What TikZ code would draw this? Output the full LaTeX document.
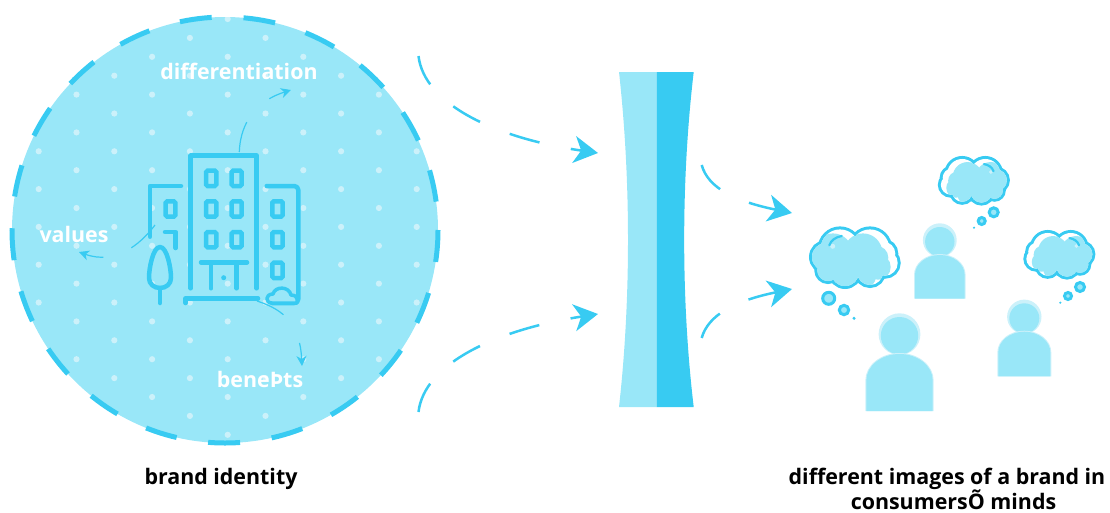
\documentclass[tikz,border=0pt]{standalone}
\usepackage{fontspec}
\setmainfont{Open Sans}
\usetikzlibrary{arrows.meta}
\definecolor{strong}{HTML}{38CBF2}
\definecolor{soft}{HTML}{99E7F8}
\definecolor{pale}{HTML}{CCF1FA}

\newcommand{\cloudlobes}{(-14,-9.3) circle (19.3) (16,-9.3) circle (19.3) (-28,-1) circle (14) (29.3,-4.3) circle (12) (31,5) circle (12.7) (-9,14) circle (14) (16,14) circle (13) (-26,12.3) circle (10.7) (2.7,2.3) circle (17)}

\tikzset{
    linework/.style={strong, line width=4.5pt, line cap=round, line join=round},
    glasspane/.style={strong, line width=4.5pt, rounded corners=1.5pt},
    flowline/.style={strong, line width=2.5pt, dash pattern=on 31pt off 32pt, -{Stealth[length=24pt, width=27pt, inset=7pt]}},
    noteline/.style={strong, line width=1.2pt, -{Stealth[length=10pt, width=10pt, inset=3pt]}},
    whitelabel/.style={white, inner sep=0pt, font=\fontsize{21.4}{25}\selectfont\bfseries},
    blacklabel/.style={black, inner sep=0pt, align=center, font=\fontsize{21.4}{25}\selectfont\bfseries},
    bubble/.style={strong, fill=soft, line width=3pt},
    thoughtcloud/.pic={
        \draw[strong, line width=6pt] \cloudlobes;
        \fill[white] \cloudlobes;
        \begin{scope}
            \clip \cloudlobes;
            \fill[soft, shift={(-7,4)}] \cloudlobes;
            \fill[soft] (-20,12) circle (24);
        \end{scope}
        \fill[pale] (-21.3,-11.7) circle (2.5);
        \draw[strong, line width=2.2pt, line cap=round] (-24.7,-12.7) .. controls (-23,-18) and (-18,-21) .. (-12.3,-22);
    }
}

\begin{document}
\begin{tikzpicture}[x=1pt, y=-1pt]
\useasboundingbox (0,0) rectangle (1110,512);

% Left: brand identity disc
\fill[soft] (225,230) circle (213);
\begin{scope}
    \clip (225,230) circle (213);
    \foreach \i in {-5,...,5} {
        \foreach \j in {0,...,11} {
            \fill[pale] ({227.7+37.8*\i},{19+37.8*\j+18.9*mod(\i+10,2)}) circle (3.1);
        }
    }
\end{scope}
\draw[strong, line width=5pt, dash pattern=on 32pt off 31.9pt] (225,230) circle (213);

% Building
\draw[linework] (190.7,288.3) -- (190.7,155.7) -- (256.7,155.7) -- (256.7,288.3);
\foreach \y in {170.7,201.3,232} {
    \draw[glasspane] (206,\y) rectangle (216.3,\y+15.3);
    \draw[glasspane] (231.7,\y) rectangle (241.7,\y+15.3);
}
\draw[linework] (150,236.7) -- (150,186) -- (181,186);
\draw[glasspane] (165.7,201.3) rectangle (175.3,216.7);
\draw[linework] (165,232) -- (175.7,232) -- (175.7,248);
\draw[linework, rounded corners=4pt] (266.7,186) -- (298.3,186) -- (298.3,303) -- (272,303);
\foreach \y in {201.3,232,262.7} {
    \draw[glasspane] (272.3,\y) rectangle (282.7,\y+15.3);
}
\draw[linework] (201,262.3) -- (247,262.3);
\draw[linework] (211,262.3) -- (211,288.3);
\draw[linework] (236.7,262.3) -- (236.7,288.3);
\fill[strong] (223.7,277.7) circle (2.5);
\draw[linework] (185.7,303) -- (185.7,298.3) -- (258,298.3);

% Tree
\draw[linework] (160,247) .. controls (153,247) and (149,268) .. (149,278)
    .. controls (149,284) and (154,288) .. (160,288)
    .. controls (166,288) and (171,284) .. (171,278)
    .. controls (171,268) and (167,247) .. (160,247);
\draw[linework] (160,288) -- (160,303);

% Small cloud
\draw[linework, line width=3.5pt, fill=soft] (272,303) .. controls (265,303) and (265,294) .. (273,294)
    .. controls (275,286) and (289,286) .. (291,295)
    .. controls (296,295) and (297,298) .. (297,299) -- (297,303) -- cycle;

% Note lines
\coordinate (towertop) at (239.3,152);
\coordinate (differentiationend) at (291,90);
\coordinate (wingleft) at (155,225);
\coordinate (valuesend) at (79,252);
\coordinate (groundline) at (257,301);
\coordinate (benefitsend) at (302,366);
\draw[noteline, dash pattern=on 31pt off 33pt] (towertop) .. controls (240,130) and (250,103) .. (differentiationend);
\draw[noteline, dash pattern=on 33pt off 30pt] (wingleft) .. controls (140,245) and (115,265) .. (valuesend);
\draw[noteline, dash pattern=on 30pt off 33pt] (groundline) .. controls (285,310) and (300,325) .. (benefitsend);

\node[whitelabel] (differentiation) at (239,71) {differentiation};
\node[whitelabel] (values) at (74,234) {values};
\node[whitelabel] (benefits) at (260,379) {beneÞts};
\node[blacklabel] (identity) at (221,479) {brand identity};

% Middle: lens
\fill[soft] (619,72) -- (656.5,72) -- (656.5,407) -- (619,407) .. controls (631,300) and (631,180) .. cycle;
\fill[strong] (656.5,72) -- (693.7,72) .. controls (681,180) and (681,300) .. (693.7,407) -- (656.5,407) -- cycle;

% Flows
\coordinate (inup) at (418.5,56);
\coordinate (indown) at (418.5,412);
\coordinate (lensup) at (598,153);
\coordinate (lensdown) at (598,314);
\coordinate (outup) at (701.7,165);
\coordinate (outdown) at (701.7,338);
\coordinate (peopleup) at (792,213);
\coordinate (peopledown) at (792,289);
\draw[flowline] (inup) .. controls (424,104) and (495,138) .. (lensup);
\draw[flowline] (indown) .. controls (424,364) and (495,330) .. (lensdown);
\draw[flowline] (outup) .. controls (708,188) and (735,201.3) .. (peopleup);
\draw[flowline] (outdown) .. controls (708,315) and (735,300.7) .. (peopledown);

% Right: people
\foreach \x/\y/\w/\t/\b/\r in {939.8/241.7/24.8/255/298.7/14.7, 899.5/335.7/33.2/354/411/18.7, 1024.3/318.3/26/331.7/376.3/15} {
    \fill[pale] (\x,\y-1.5) circle (\r+2.2);
    \fill[soft] (\x,\y) circle (\r);
    \fill[pale] (\x-\w-1,\b) -- (\x-\w-1,\t+.8*\w) arc[start angle=180, end angle=360, x radius=\w+1, y radius=.8*\w+1] -- (\x+\w+1,\b) -- cycle;
    \fill[soft] (\x-\w,\b) -- (\x-\w,\t+.8*\w) arc[start angle=180, end angle=360, x radius=\w, y radius=.8*\w] -- (\x+\w,\b) -- cycle;
}

% Thought clouds
\pic (bigcloud) at (854,258) {thoughtcloud};
\pic[xscale=-.77, yscale=.77] (topcloud) at (974.5,181) {thoughtcloud};
\pic[xscale=-.77, yscale=.77] (rightcloud) at (1060,255) {thoughtcloud};
\foreach \x/\y/\r in {828.7/298.3/6, 844/310/4.7, 993.7/212.3/4.5, 981.7/221/3.5, 1080/287/4.5, 1068/296/3.5} {
    \draw[bubble] (\x,\y) circle (\r);
}
\foreach \x/\y/\r in {854/318.3/1.7, 974/227.7/1.2, 1060.3/302.7/1.2} {
    \fill[strong] (\x,\y) circle (\r);
}

\node[blacklabel] (minds) at (947,488.5) {different images of a brand in\\\hspace*{13pt}consumersÕ minds};

\end{tikzpicture}
\end{document}
